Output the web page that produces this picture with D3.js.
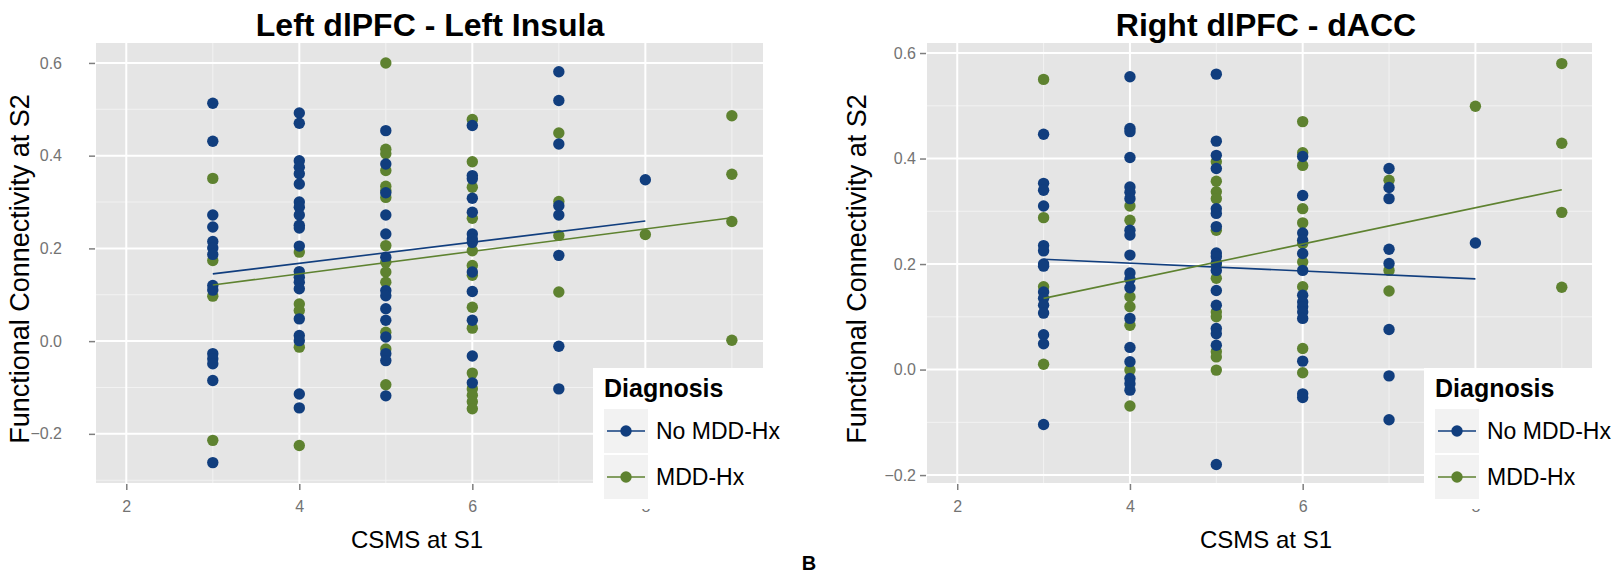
<!DOCTYPE html>
<html>
<head>
<meta charset="utf-8">
<script src="https://d3js.org/d3.v7.min.js"></script>
<style>
  body { margin: 0; background: #fff; }
  svg { font-family: "Liberation Sans", Arial, sans-serif; display: block; }
  .panel-bg { fill: #e5e5e5; }
  .grid-major { stroke: #fff; stroke-width: 2; }
  .grid-minor { stroke: #f2f2f2; stroke-width: 1; }
  .tick line { stroke: #7f7f7f; stroke-width: 1.5; }
  .tick text { fill: #737373; }
</style>
</head>
<body>
<script>

// x = CSMS at S1, y = functional connectivity at S2
var xTicks = [2, 4, 6, 8];
var yTicks = [-0.2, 0, 0.2, 0.4, 0.6];
var groups = ["No MDD-Hx", "MDD-Hx"];
var colors = ["#113e7e", "#5e8230"];

// left panel: Left dlPFC - Left Insula
var leftNoMdd = [
  [3, [0.513, 0.431, 0.272, 0.246, 0.215, 0.201, 0.187, 0.120, 0.110, -0.027, -0.038, -0.049, -0.085, -0.262]],
  [4, [0.492, 0.470, 0.389, 0.375, 0.361, 0.339, 0.300, 0.289, 0.272, 0.250, 0.244, 0.205, 0.150, 0.138, 0.127, 0.113, 0.048, 0.012, 0.001, -0.114, -0.144]],
  [5, [0.454, 0.382, 0.320, 0.272, 0.231, 0.181, 0.109, 0.098, 0.070, 0.045, 0.009, -0.027, -0.042, -0.118]],
  [6, [0.465, 0.357, 0.350, 0.308, 0.278, 0.231, 0.220, 0.213, 0.149, 0.107, 0.045, -0.032, -0.090]],
  [7, [0.581, 0.519, 0.425, 0.292, 0.272, 0.185, -0.011, -0.103]],
  [8, [0.348]]
];
var leftMdd = [
  [3, [0.351, 0.174, 0.097, -0.214]],
  [4, [0.192, 0.080, 0.066, -0.013, -0.225]],
  [5, [0.600, 0.414, 0.404, 0.368, 0.334, 0.325, 0.310, 0.206, 0.170, 0.149, 0.127, 0.019, -0.017, -0.094]],
  [6, [0.478, 0.387, 0.332, 0.265, 0.195, 0.163, 0.142, 0.073, 0.028, -0.069, -0.103, -0.117, -0.131, -0.146]],
  [7, [0.449, 0.301, 0.228, 0.106]],
  [8, [0.230]],
  [9, [0.486, 0.360, 0.258, 0.002]]
];
var leftFitNoMdd = [[3, 0.145], [8, 0.259]];
var leftFitMdd = [[3, 0.121], [9, 0.266]];

// right panel: Right dlPFC - dACC
var rightNoMdd = [
  [3, [0.446, 0.353, 0.340, 0.310, 0.235, 0.225, 0.200, 0.196, 0.147, 0.135, 0.122, 0.107, 0.066, 0.049, -0.104]],
  [4, [0.555, 0.457, 0.451, 0.402, 0.346, 0.336, 0.324, 0.264, 0.255, 0.217, 0.183, 0.171, 0.155, 0.097, 0.042, 0.015, -0.017, -0.027, -0.039]],
  [5, [0.560, 0.433, 0.406, 0.381, 0.305, 0.296, 0.271, 0.221, 0.214, 0.202, 0.188, 0.150, 0.122, 0.078, 0.068, 0.046, -0.180]],
  [6, [0.404, 0.330, 0.259, 0.245, 0.220, 0.188, 0.141, 0.128, 0.119, 0.109, 0.097, 0.016, -0.046, -0.053]],
  [7, [0.381, 0.345, 0.324, 0.228, 0.201, 0.076, -0.012, -0.095]],
  [8, [0.240]]
];
var rightMdd = [
  [3, [0.550, 0.288, 0.157, 0.010]],
  [4, [0.310, 0.283, 0.138, 0.119, 0.084, -0.001, -0.069]],
  [5, [0.394, 0.357, 0.337, 0.324, 0.264, 0.198, 0.173, 0.109, 0.100, 0.034, 0.024, -0.001]],
  [6, [0.470, 0.411, 0.387, 0.305, 0.278, 0.239, 0.204, 0.157, 0.040, -0.006]],
  [7, [0.359, 0.188, 0.149]],
  [8, [0.499]],
  [9, [0.580, 0.429, 0.298, 0.156]]
];
var rightFitNoMdd = [[3, 0.209], [8, 0.172]];
var rightFitMdd = [[3, 0.135], [9, 0.341]];

var svg = d3.select("body").append("svg")
    .attr("width", 1623)
    .attr("height", 575);

function flatten(cols, g) {
  var out = [];
  cols.forEach(function(c) {
    c[1].forEach(function(v) { out.push({x: c[0], y: v, g: g}); });
  });
  return out;
}

function drawPanel(p) {
  var x = d3.scaleLinear().domain(p.xDomain).range([p.left, p.right]);
  var y = d3.scaleLinear().domain(p.yDomain).range([p.bottom, p.top]);
  var g = svg.append("g");

  g.append("rect").attr("class", "panel-bg")
      .attr("x", p.left).attr("y", p.top)
      .attr("width", p.right - p.left).attr("height", p.bottom - p.top);

  // minor grid
  var xMinor = [3, 5, 7, 9];
  var yMinor = [-0.3, -0.1, 0.1, 0.3, 0.5].filter(function(v) { return v > p.yDomain[0] && v < p.yDomain[1]; });
  g.selectAll(".vx-minor").data(xMinor).enter().append("line")
      .attr("class", "grid-minor")
      .attr("x1", x).attr("x2", x).attr("y1", p.top).attr("y2", p.bottom);
  g.selectAll(".hy-minor").data(yMinor).enter().append("line")
      .attr("class", "grid-minor")
      .attr("y1", y).attr("y2", y).attr("x1", p.left).attr("x2", p.right);
  // major grid
  g.selectAll(".vx-major").data(xTicks).enter().append("line")
      .attr("class", "grid-major")
      .attr("x1", x).attr("x2", x).attr("y1", p.top).attr("y2", p.bottom);
  g.selectAll(".hy-major").data(yTicks).enter().append("line")
      .attr("class", "grid-major")
      .attr("y1", y).attr("y2", y).attr("x1", p.left).attr("x2", p.right);

  // axes
  var xAxis = d3.axisBottom(x).tickValues(xTicks).tickSize(6).tickPadding(11).tickFormat(d3.format("d"));
  var yAxis = d3.axisLeft(y).tickValues(yTicks).tickSize(6).tickPadding(p.yPad).tickFormat(d3.format(".1f"));
  g.append("g").attr("transform", "translate(0," + (p.bottom + 1) + ")").call(xAxis)
      .call(function(a) { a.select(".domain").remove(); a.selectAll("text").attr("font-size", 16).attr("font-family", null); });
  g.append("g").attr("transform", "translate(" + (p.left - 1) + ",0)").call(yAxis)
      .call(function(a) { a.select(".domain").remove(); a.selectAll("text").attr("font-size", 16).attr("font-family", null); });

  // points
  var pts = flatten(p.mdd, 1).concat(flatten(p.noMdd, 0));
  g.selectAll(".pt").data(pts).enter().append("circle")
      .attr("cx", function(d) { return x(d.x); })
      .attr("cy", function(d) { return y(d.y); })
      .attr("r", 5.7)
      .attr("fill", function(d) { return colors[d.g]; });

  // fit lines
  var line = d3.line().x(function(d) { return x(d[0]); }).y(function(d) { return y(d[1]); });
  [p.fitNoMdd, p.fitMdd].forEach(function(f, i) {
    g.append("path").attr("d", line(f))
        .attr("fill", "none").attr("stroke", colors[i]).attr("stroke-width", 1.6);
  });

  // titles
  g.append("text").attr("x", p.titleX).attr("y", 36)
      .attr("text-anchor", "middle").attr("font-weight", "bold").attr("font-size", 32)
      .text(p.title);
  g.append("text").attr("x", p.xTitleX).attr("y", 548)
      .attr("text-anchor", "middle").attr("font-size", 24)
      .text("CSMS at S1");
  g.append("text")
      .attr("transform", "translate(" + p.yTitleX + "," + ((p.top + p.bottom) / 2 + 6) + ") rotate(-90)")
      .attr("text-anchor", "middle").attr("font-size", 27)
      .text("Functional Connectivity at S2");

  // legend (its white box hides most of the "8" tick label, as in the original)
  var lg = g.append("g").attr("transform", "translate(" + p.legendX + ",368)");
  lg.append("rect").attr("width", 200).attr("height", 141).attr("fill", "#fff");
  lg.append("text").attr("x", 11).attr("y", 29)
      .attr("font-weight", "bold").attr("font-size", 25).text("Diagnosis");
  groups.forEach(function(name, i) {
    var ky = 41 + i * 46;
    lg.append("rect").attr("x", 11).attr("y", ky).attr("width", 44).attr("height", 44).attr("fill", "#f2f2f2");
    lg.append("line").attr("x1", 14).attr("x2", 52).attr("y1", ky + 22).attr("y2", ky + 22)
        .attr("stroke", colors[i]).attr("stroke-width", 1.6);
    lg.append("circle").attr("cx", 33).attr("cy", ky + 22).attr("r", 5.7).attr("fill", colors[i]);
    lg.append("text").attr("x", 63).attr("y", ky + 30).attr("font-size", 23).text(name);
  });
}

drawPanel({
  left: 96, right: 763, top: 43, bottom: 483,
  xDomain: [1.65, 9.36], yDomain: [-0.306, 0.643],
  noMdd: leftNoMdd, mdd: leftMdd, fitNoMdd: leftFitNoMdd, fitMdd: leftFitMdd,
  title: "Left dlPFC - Left Insula", titleX: 430, xTitleX: 417, yTitleX: 29,
  yPad: 27, legendX: 593
});

drawPanel({
  left: 927, right: 1592, top: 43, bottom: 483,
  xDomain: [1.65, 9.35], yDomain: [-0.215, 0.619],
  noMdd: rightNoMdd, mdd: rightMdd, fitNoMdd: rightFitNoMdd, fitMdd: rightFitMdd,
  title: "Right dlPFC - dACC", titleX: 1266, xTitleX: 1266, yTitleX: 866,
  yPad: 4, legendX: 1424
});

svg.append("text").attr("x", 809).attr("y", 570)
    .attr("text-anchor", "middle").attr("font-weight", "bold").attr("font-size", 20)
    .text("B");

</script>
</body>
</html>
